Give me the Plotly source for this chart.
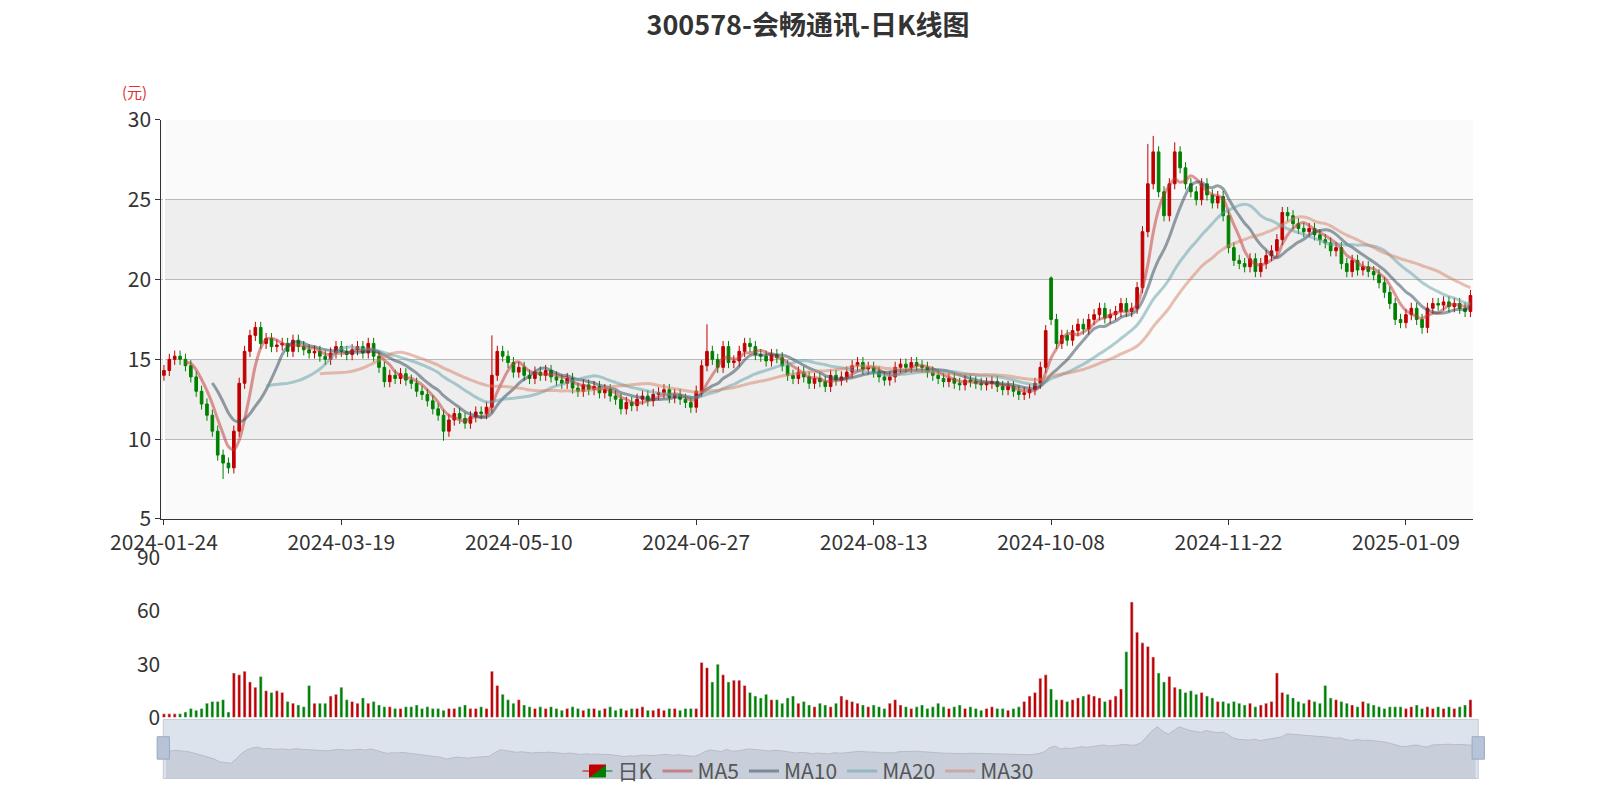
import plotly.graph_objects as go

tick_labels = ["2024-01-24","2024-03-19","2024-05-10","2024-06-27","2024-08-13","2024-10-08","2024-11-22","2025-01-09"]
tick_index = [0,33,66,99,132,165,198,231]

close = [14.3,15.0,15.2,15.0,14.6,13.9,13.0,12.2,11.5,10.5,9.0,8.5,8.2,10.5,13.5,15.5,16.5,17.0,16.0,16.3,
15.8,15.9,16.0,15.5,16.2,15.8,15.6,15.4,15.5,15.2,15.0,15.4,15.8,15.5,15.3,15.6,15.8,15.4,16.0,15.2,
14.5,13.6,14.0,13.8,14.1,13.7,13.5,13.0,12.8,12.4,11.9,11.5,10.5,11.2,11.6,11.3,11.0,11.4,11.7,11.6,
12.0,14.0,15.5,15.2,14.8,14.2,14.5,14.0,13.8,14.2,14.0,14.3,13.9,13.7,13.5,13.8,13.2,13.0,13.4,13.1,
13.3,12.9,13.1,12.7,12.5,11.9,12.3,12.1,12.5,12.7,12.4,12.8,12.9,13.1,12.6,12.8,12.5,12.3,12.0,13.0,
14.6,15.5,15.0,14.5,15.8,14.8,14.9,15.5,16.0,15.8,15.3,15.2,14.9,15.3,15.1,14.6,14.0,13.8,14.2,13.9,
13.5,13.8,13.6,13.3,14.0,13.7,13.9,14.2,14.6,14.8,14.4,14.5,14.2,13.9,13.7,13.9,14.5,14.7,14.5,14.8,
14.6,14.5,14.2,14.0,13.8,13.6,13.8,13.5,13.4,13.7,13.6,13.5,13.4,13.5,13.6,13.3,13.1,13.3,13.0,12.8,
12.9,13.1,13.5,14.5,16.8,17.5,16.0,16.5,16.2,16.8,17.2,16.9,17.5,17.8,18.2,17.6,17.8,18.0,18.5,18.0,
18.2,19.5,23.0,26.0,28.0,25.5,24.0,26.0,28.0,27.0,26.0,25.5,25.0,26.0,25.3,24.8,25.2,24.0,22.0,21.2,
21.0,20.8,21.3,20.5,21.0,21.5,21.8,22.5,24.2,24.0,23.5,23.2,23.0,23.2,22.8,22.5,22.3,21.8,22.0,21.0,
20.5,21.2,20.6,20.8,20.5,20.3,19.8,19.2,18.5,17.5,17.3,17.8,18.2,17.5,17.0,18.2,18.5,18.4,18.6,18.3,
18.5,18.2,18.0,19.0]

volume = [2,2,2,2,3,5,4,5,8,9,9,10,3,25,24,26,20,17,23,15,
14,15,14,9,8,7,6,18,8,8,8,12,13,17,10,9,8,11,8,9,
7,6,6,5,5,6,6,7,5,6,5,5,4,5,5,6,7,5,5,6,
5,26,18,13,10,8,10,7,6,5,6,5,6,5,4,5,6,5,4,5,
5,4,5,6,4,5,4,5,5,6,4,4,5,4,5,5,4,5,5,5,
31,28,20,30,24,20,21,21,18,14,12,11,13,10,10,8,11,12,8,9,
7,6,8,7,6,8,12,10,9,8,7,6,7,6,5,8,10,7,6,5,
6,7,5,6,8,6,5,6,7,5,6,5,4,5,6,5,5,4,5,6,
9,12,14,22,24,16,10,10,9,10,11,12,13,12,11,9,10,12,16,37,
65,48,42,40,34,25,20,23,17,16,14,15,13,14,12,11,9,9,8,9,
8,7,8,6,7,8,9,25,14,13,11,9,8,10,9,8,18,11,10,9,
8,7,6,9,8,7,6,5,6,6,6,5,6,7,5,6,5,6,5,6,
5,6,7,10]

N = len(close)
x = list(range(N))
opens = [close[0] - 0.3] + close[:-1]
opens[165] = 20.1
highs = [max(o, c) + 0.35 for o, c in zip(opens, close)]
lows = [min(o, c) - 0.35 for o, c in zip(opens, close)]
for i, v in {11: 7.5, 52: 9.9, 234: 16.6}.items():
    lows[i] = v
for i, v in {61: 16.5, 101: 17.2, 184: 29.0, 165: 20.2, 183: 28.5, 188: 28.6}.items():
    highs[i] = v

def ma(n):
    out = []
    for i in range(N):
        out.append(sum(close[i-n+1:i+1]) / n if i >= n - 1 else None)
    return out

PW, PH, OX, OY = 1566.0, 786.0, 8.0, 8.0
def px(v): return (v - OX) / PW
def py(v): return 1 - (v - OY) / PH

UP, DOWN = "#c00000", "#008000"
fig = go.Figure()
fig.add_trace(go.Candlestick(x=x, open=opens, high=highs, low=lows, close=close, name="日K",
    increasing=dict(line=dict(color=UP, width=1), fillcolor=UP),
    decreasing=dict(line=dict(color=DOWN, width=1), fillcolor=DOWN),
    whiskerwidth=0, xaxis="x", yaxis="y"))
for n, col in [(5, "#c23531"), (10, "#2f4554"), (20, "#61a0a8"), (30, "#d48265")]:
    fig.add_trace(go.Scatter(x=x, y=ma(n), mode="lines", name="MA%d" % n,
        line=dict(color=col, width=3, shape="spline"), opacity=0.5, xaxis="x", yaxis="y"))
vcol = [UP if c >= o else DOWN for o, c in zip(opens, close)]
fig.add_trace(go.Bar(x=x, y=volume, marker_color=vcol, showlegend=False, xaxis="x2", yaxis="y2"))
fig.add_trace(go.Scatter(x=x, y=close, mode="lines", fill="tozeroy", showlegend=False,
    line=dict(color="#b8bcc6", width=1), fillcolor="rgba(160,168,185,0.35)", xaxis="x3", yaxis="y3", hoverinfo="skip"))

shapes = []
for y0, y1, c in [(5, 10, "#fafafa"), (10, 15, "#eeeeee"), (15, 20, "#fafafa"), (20, 25, "#eeeeee"), (25, 30, "#fafafa")]:
    shapes.append(dict(type="rect", xref="x domain", yref="y", x0=0, x1=1, y0=y0, y1=y1,
                       fillcolor=c, line_width=0, layer="below"))
shapes.append(dict(type="rect", xref="paper", yref="paper", x0=px(160), x1=px(1447), y0=py(765), y1=py(707),
                   fillcolor="#dde3ec", line=dict(color="#c5cbd6", width=1), layer="below"))
for xp in (160, 1447):
    shapes.append(dict(type="rect", xref="paper", yref="paper", x0=px(xp-6), x1=px(xp+6),
                       y0=py(746), y1=py(724), fillcolor="#b7c3d6", line=dict(color="#9aa8bf", width=1)))

fig.update_layout(
    width=1600, height=800, margin=dict(l=0, r=0, t=0, b=0),
    paper_bgcolor="white", plot_bgcolor="rgba(0,0,0,0)",
    font=dict(family="Noto Sans CJK SC, Noto Sans", color="#333"),
    title=dict(text="<b>300578-会畅通讯-日K线图</b>", x=0.5, xanchor="center", y=py(25), yanchor="middle",
               font=dict(size=27, color="#333"), automargin=False),
    shapes=shapes,
    xaxis=dict(domain=[px(158), px(1442)], range=[-0.5, N-0.5], tickvals=tick_index, ticktext=tick_labels,
               showgrid=False, showline=True, linecolor="#333", ticks="outside", tickcolor="#333", automargin=False,
               tickfont=dict(size=21, color="#333"), rangeslider=dict(visible=False), anchor="y"),
    yaxis=dict(domain=[py(510), py(118)], range=[5, 30], tickvals=[5, 10, 15, 20, 25, 30], automargin=False,
               showgrid=True, gridcolor="#bbbbbb", showline=True, linecolor="#333", ticks="outside",
               tickcolor="#333", tickfont=dict(size=21, color="#333"), zeroline=False, anchor="x"),
    xaxis2=dict(domain=[px(158), px(1442)], range=[-0.5, N-0.5], showticklabels=False, showgrid=False,
                automargin=False, anchor="y2"),
    yaxis2=dict(domain=[py(705), py(548)], range=[0, 90], tickvals=[0, 30, 60, 90], showgrid=False,
                automargin=False, zeroline=False, tickfont=dict(size=21, color="#333"), anchor="x2"),
    xaxis3=dict(domain=[px(160), px(1447)], range=[-0.5, N-0.5], visible=False, anchor="y3"),
    yaxis3=dict(domain=[py(765), py(707)], range=[0, 32], visible=False, anchor="x3"),
    bargap=0.45,
    legend=dict(orientation="h", x=0.5, xanchor="center", y=py(758), yanchor="middle",
                font=dict(size=21, color="#555"), bgcolor="rgba(0,0,0,0)"),
    annotations=[dict(text="(元)", x=px(118), y=py(78), xref="paper", yref="paper", showarrow=False,
                      font=dict(size=15, color="#e03030"))],
)
fig.write_html("out.html")
